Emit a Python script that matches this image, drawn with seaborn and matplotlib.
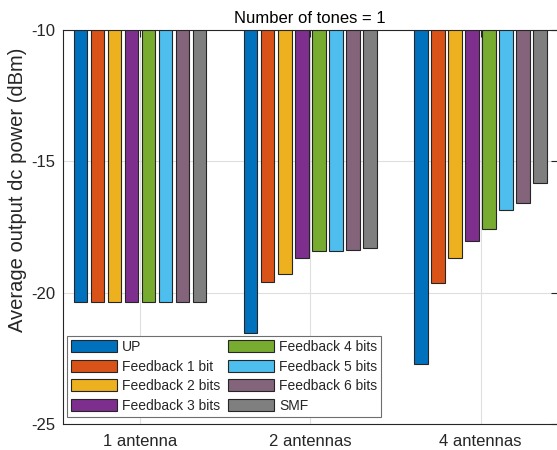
import numpy as np
import pandas as pd
import matplotlib
matplotlib.use("Agg")
import matplotlib.pyplot as plt
import seaborn as sns

antennas = ["1 antenna", "2 antennas", "4 antennas"]
schemes = ["UP", "Feedback 1 bit", "Feedback 2 bits", "Feedback 3 bits",
           "Feedback 4 bits", "Feedback 5 bits", "Feedback 6 bits", "SMF"]
up = [-20.37, -21.54, -22.72]
fb1 = [-20.37, -19.59, -19.64]
fb2 = [-20.37, -19.30, -18.69]
fb3 = [-20.37, -18.68, -18.05]
fb4 = [-20.37, -18.41, -17.57]
fb5 = [-20.37, -18.40, -16.84]
fb6 = [-20.37, -18.36, -16.58]
smf = [-20.37, -18.31, -15.81]
yticks = [-25, -20, -15, -10]

colors = ["#0072BD", "#D95319", "#EDB120", "#7E2F8E",
          "#77AC30", "#4DBEEE", "#83647B", "#7F7F7F"]

series = [up, fb1, fb2, fb3, fb4, fb5, fb6, smf]
rows = []
for name, vals in zip(schemes, series):
    for a, v in zip(antennas, vals):
        rows.append({"antennas": a, "scheme": name, "power": v})
df = pd.DataFrame(rows)

sns.set_style("white")
plt.rcParams["font.family"] = ["Liberation Sans", "DejaVu Sans"]
plt.rcParams["axes.unicode_minus"] = False

fig = plt.figure(figsize=(5.57, 4.5), dpi=100)
ax = fig.add_axes([62.5 / 557, 26 / 450, 495.5 / 557, 394 / 450])

sns.barplot(data=df, x="antennas", y="power", hue="scheme", order=antennas,
            hue_order=schemes, palette=colors, width=0.8, gap=0.2,
            edgecolor="#262626", linewidth=0.8, saturation=1, ax=ax)

ax.set_axisbelow(True)
ax.grid(True, color="#dfdfdf", linewidth=0.8)
ax.set_ylim(-25, -10)
ax.set_yticks(yticks)
ax.set_yticklabels([str(t) for t in yticks])
ax.set_xlim(-0.455, 2.455)
ax.tick_params(axis="both", direction="in", top=True, right=True, length=5,
               width=0.8, color="#262626", labelsize=12, labelcolor="#262626")
ax.tick_params(axis="y", pad=5)
ax.tick_params(axis="x", pad=7)
for s in ax.spines.values():
    s.set_linewidth(0.8)
    s.set_color("#262626")
ax.set_xlabel("")
ax.set_ylabel("Average output dc power (dBm)", fontsize=14.5, color="#262626")
ax.yaxis.label.set_va("center")
ax.yaxis.set_label_coords((18 - 62.5) / 495.5, (424 - 190) / 394)
ax.set_title("Number of tones = 1", fontsize=12, color="#000000", pad=5)

ax.legend(loc="lower left", bbox_to_anchor=(0.009, 0.018), ncol=2, fontsize=10,
          frameon=True, fancybox=False, edgecolor="#6e6e6e", framealpha=1,
          handlelength=3.3, handleheight=0.95, handletextpad=0.35,
          columnspacing=0.6, labelspacing=0.4, borderpad=0.3, borderaxespad=0)
ax.get_legend().get_frame().set_linewidth(0.8)

fig.savefig("out.png", dpi=100)
